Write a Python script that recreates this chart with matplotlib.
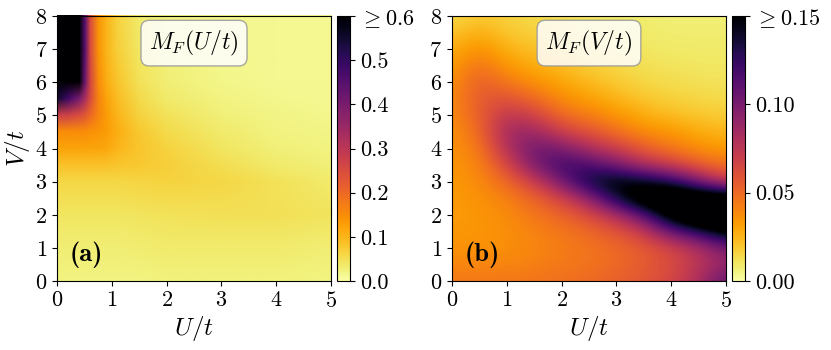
import numpy as np
import matplotlib
matplotlib.use('Agg')
from matplotlib import pyplot as plt
from matplotlib.image import NonUniformImage
from matplotlib.colors import Normalize

plt.rcParams['font.family'] = 'serif'
plt.rcParams['font.serif'] = ['cmr10']
plt.rcParams['mathtext.fontset'] = 'cm'
plt.rcParams['axes.formatter.use_mathtext'] = True

# panel (a): M_F(U/t), coarse grid (rows = V/t, cols = U/t)
u_a = [0, 0.2, 0.4, 0.5, 0.6, 0.75, 0.9, 1.1, 1.5, 2, 3, 4, 5]
v_a = [0, 1, 2, 3, 3.5, 4, 4.5, 5, 5.5, 6, 7, 8]
mf_a = [
    [0.022, 0.022, 0.022, 0.022, 0.022, 0.022, 0.022, 0.022, 0.023, 0.024, 0.024, 0.024, 0.023],
    [0.030, 0.030, 0.030, 0.030, 0.030, 0.030, 0.030, 0.030, 0.032, 0.033, 0.034, 0.033, 0.030],
    [0.040, 0.040, 0.040, 0.040, 0.040, 0.040, 0.040, 0.040, 0.043, 0.045, 0.047, 0.047, 0.043],
    [0.060, 0.060, 0.060, 0.060, 0.060, 0.060, 0.060, 0.060, 0.062, 0.065, 0.060, 0.045, 0.035],
    [0.085, 0.085, 0.085, 0.085, 0.085, 0.085, 0.085, 0.082, 0.075, 0.068, 0.050, 0.035, 0.027],
    [0.120, 0.120, 0.120, 0.120, 0.120, 0.120, 0.115, 0.100, 0.082, 0.065, 0.040, 0.028, 0.022],
    [0.150, 0.150, 0.150, 0.150, 0.145, 0.140, 0.130, 0.110, 0.075, 0.055, 0.033, 0.023, 0.019],
    [0.280, 0.270, 0.250, 0.230, 0.200, 0.160, 0.130, 0.100, 0.065, 0.045, 0.027, 0.019, 0.016],
    [0.550, 0.480, 0.400, 0.330, 0.250, 0.160, 0.120, 0.090, 0.055, 0.035, 0.022, 0.016, 0.014],
    [1.000, 0.800, 0.620, 0.420, 0.260, 0.150, 0.110, 0.080, 0.045, 0.030, 0.018, 0.014, 0.013],
    [1.000, 1.000, 0.900, 0.450, 0.250, 0.140, 0.100, 0.070, 0.038, 0.025, 0.016, 0.013, 0.012],
    [1.000, 1.000, 0.900, 0.450, 0.250, 0.140, 0.100, 0.065, 0.035, 0.022, 0.015, 0.012, 0.012],
]

# panel (b): M_F(V/t) on a 0.5 x 0.5 grid (rows = V/t from 0 to 8, cols = U/t from 0 to 5)
u_b = [0, 0.5, 1, 1.5, 2, 2.5, 3, 3.5, 4, 4.5, 5]
v_b = [0, 0.5, 1, 1.5, 2, 2.5, 3, 3.5, 4, 4.5, 5, 5.5, 6, 6.5, 7, 7.5, 8]
mf_b = [
    [0.045, 0.045, 0.045, 0.046, 0.048, 0.050, 0.053, 0.058, 0.065, 0.080, 0.110],
    [0.040, 0.040, 0.040, 0.042, 0.044, 0.046, 0.050, 0.055, 0.062, 0.075, 0.090],
    [0.036, 0.036, 0.037, 0.040, 0.043, 0.046, 0.050, 0.056, 0.065, 0.080, 0.100],
    [0.034, 0.035, 0.037, 0.041, 0.045, 0.050, 0.058, 0.070, 0.105, 0.125, 0.155],
    [0.033, 0.035, 0.038, 0.045, 0.052, 0.062, 0.080, 0.110, 0.165, 0.200, 0.220],
    [0.033, 0.036, 0.041, 0.052, 0.065, 0.090, 0.135, 0.175, 0.190, 0.180, 0.175],
    [0.034, 0.038, 0.050, 0.068, 0.100, 0.138, 0.155, 0.145, 0.130, 0.100, 0.070],
    [0.035, 0.040, 0.063, 0.098, 0.122, 0.118, 0.100, 0.080, 0.070, 0.055, 0.047],
    [0.036, 0.043, 0.078, 0.105, 0.100, 0.080, 0.070, 0.055, 0.045, 0.038, 0.033],
    [0.037, 0.048, 0.086, 0.088, 0.068, 0.060, 0.048, 0.038, 0.035, 0.028, 0.025],
    [0.038, 0.053, 0.075, 0.068, 0.050, 0.043, 0.035, 0.028, 0.023, 0.020, 0.018],
    [0.038, 0.056, 0.060, 0.050, 0.038, 0.032, 0.026, 0.020, 0.017, 0.015, 0.014],
    [0.036, 0.055, 0.045, 0.037, 0.030, 0.024, 0.019, 0.015, 0.013, 0.012, 0.011],
    [0.032, 0.048, 0.034, 0.028, 0.023, 0.018, 0.015, 0.012, 0.011, 0.010, 0.010],
    [0.027, 0.038, 0.026, 0.022, 0.018, 0.014, 0.012, 0.010, 0.009, 0.009, 0.009],
    [0.020, 0.028, 0.020, 0.017, 0.014, 0.012, 0.010, 0.009, 0.008, 0.008, 0.008],
    [0.014, 0.020, 0.016, 0.014, 0.012, 0.010, 0.009, 0.008, 0.007, 0.007, 0.007],
]

ticks_a = [0.0, 0.1, 0.2, 0.3, 0.4, 0.5, 0.6]
ticklabels_a = ['0.0', '0.1', '0.2', '0.3', '0.4', '0.5', r'$\geq 0.6$']
ticks_b = [0.0, 0.05, 0.10, 0.15]
ticklabels_b = ['0.00', '0.05', '0.10', r'$\geq 0.15$']

fig = plt.figure(figsize=(8.31, 3.5), dpi=100)

panels = [
    (u_a, v_a, mf_a, 0.6, ticks_a, ticklabels_a, r'$M_F(U/t)$', '(a)', 0.0686, 0.4055),
    (u_b, v_b, mf_b, 0.15, ticks_b, ticklabels_b, r'$M_F(V/t)$', '(b)', 0.5439, 0.8809),
]

for i, (u, v, mf, vmax, cticks, clabels, title, tag, x0, cx0) in enumerate(panels):
    ax = fig.add_axes([x0, 0.197, 0.3297, 0.757])
    cax = fig.add_axes([cx0, 0.197, 0.0156, 0.757])
    norm = Normalize(vmin=0, vmax=vmax)
    if i == 0:
        # uneven grid -> bilinear non-uniform image
        img = NonUniformImage(ax, interpolation='bilinear', cmap='inferno_r', norm=norm)
        img.set_data(u, v, np.array(mf))
        ax.add_image(img)
    else:
        img = ax.imshow(np.array(mf), origin='lower', cmap='inferno_r', norm=norm,
                        interpolation='bicubic', aspect='auto',
                        extent=[u[0] - 0.25, u[-1] + 0.25, v[0] - 0.25, v[-1] + 0.25])
    ax.set_xlim(0, 5)
    ax.set_ylim(0, 8)
    ax.set_xticks(range(6))
    ax.set_yticks(range(9))
    ax.tick_params(labelsize=16)
    ax.set_xlabel(r'$U/t$', fontsize=18, labelpad=2)
    if i == 0:
        ax.set_ylabel(r'$V/t$', fontsize=18, labelpad=2)
    ax.text(0.5, 0.898, title, transform=ax.transAxes, ha='center', va='center',
            fontsize=17,
            bbox=dict(boxstyle='round,pad=0.35', facecolor='white', alpha=0.85,
                      edgecolor='0.6'))
    ax.text(0.045, 0.05, tag, transform=ax.transAxes, ha='left', va='bottom',
            fontsize=19, fontfamily='cmb10')

    cb = fig.colorbar(img, cax=cax)
    cb.set_ticks(cticks)
    cb.set_ticklabels(clabels)
    cb.ax.tick_params(labelsize=16)

plt.savefig('out.png', dpi=100)
